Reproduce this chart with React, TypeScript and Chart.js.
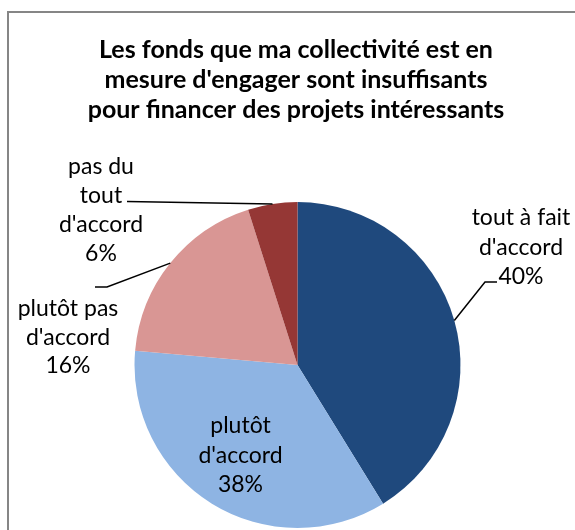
import React, { useEffect, useRef } from "react";
import { Chart, registerables } from "chart.js";

Chart.register(...registerables);

// ---- data ----
const categories = [
  "tout à fait d'accord",
  "plutôt d'accord",
  "plutôt pas d'accord",
  "pas du tout d'accord",
];
// slice sizes
const values = [41.2, 35.2, 18.7, 4.9];
// percentages as printed on the labels
const percentLabels = ["40%", "38%", "16%", "6%"];
const labelLines = [
  ["tout à fait", "d'accord"],
  ["plutôt", "d'accord"],
  ["plutôt pas", "d'accord"],
  ["pas du", "tout", "d'accord"],
];
const titleLines = [
  "Les fonds que ma collectivité est en",
  "mesure d'engager sont insuffisants",
  "pour financer des projets intéressants",
];
const colors = ["#1F497D", "#8EB4E3", "#D99694", "#953735"];

// ---- layout (label placement, leader elbows) ----
const FONT = "Lato, 'Open Sans', sans-serif";
const labelLayout = [
  { cx: 521, y0: 225, lh: 29.5, leader: [[485, 282], [497, 282]] },
  { cx: 240.5, y0: 433, lh: 29.5, leader: null },
  { cx: 68, y0: 316, lh: 28.5, leader: [[107, 287], [95, 287]] },
  { cx: 101, y0: 173.5, lh: 29, leader: [[127, 201.5]] },
];

const decorPlugin = {
  id: "decor",
  beforeDraw(chart: any) {
    const ctx = chart.ctx;
    ctx.save();
    ctx.fillStyle = "#ffffff";
    ctx.fillRect(0, 0, chart.width, chart.height);
    ctx.strokeStyle = "#868686";
    ctx.lineWidth = 2;
    ctx.strokeRect(8, 12, 576, 540);
    ctx.restore();
  },
  afterDraw(chart: any) {
    const ctx = chart.ctx;
    ctx.save();
    // title
    ctx.fillStyle = "#000";
    ctx.textAlign = "center";
    ctx.textBaseline = "alphabetic";
    ctx.font = `bold 25px ${FONT}`;
    titleLines.forEach((t, i) => ctx.fillText(t, 296, 58 + i * 30));

    // labels
    const meta = chart.getDatasetMeta(0);
    meta.data.forEach((arc: any, i: number) => {
      const L = labelLayout[i];
      const lines = [...labelLines[i], percentLabels[i]];
      ctx.font = `23px ${FONT}`;
      ctx.fillStyle = "#000";
      lines.forEach((t, k) => ctx.fillText(t, L.cx, L.y0 + k * L.lh));
      if (L.leader) {
        const mid = (arc.startAngle + arc.endAngle) / 2;
        const sx = arc.x + arc.outerRadius * Math.cos(mid);
        const sy = arc.y + arc.outerRadius * Math.sin(mid);
        ctx.beginPath();
        ctx.moveTo(sx, sy);
        L.leader.forEach((p: number[]) => ctx.lineTo(p[0], p[1]));
        ctx.strokeStyle = "#000";
        ctx.lineWidth = 1.5;
        ctx.stroke();
      }
    });
    ctx.restore();
  },
};

export default function App() {
  const ref = useRef<HTMLCanvasElement>(null);
  useEffect(() => {
    if (!ref.current) return;
    const chart = new Chart(ref.current, {
      type: "pie",
      data: {
        labels: categories,
        datasets: [
          {
            data: values,
            backgroundColor: colors,
            borderWidth: 0,
          },
        ],
      },
      options: {
        responsive: false,
        animation: false,
        events: [],
        layout: { padding: { top: 202, bottom: 2, left: 134.5, right: 114.5 } },
        plugins: {
          legend: { display: false },
          tooltip: { enabled: false },
          title: { display: false },
        },
      },
      plugins: [decorPlugin],
    });
    return () => chart.destroy();
  }, []);
  return (
    <div style={{ position: "absolute", left: 0, top: 0, width: 575, height: 530 }}>
      <canvas ref={ref} width={575} height={530} style={{ display: "block" }} />
    </div>
  );
}
